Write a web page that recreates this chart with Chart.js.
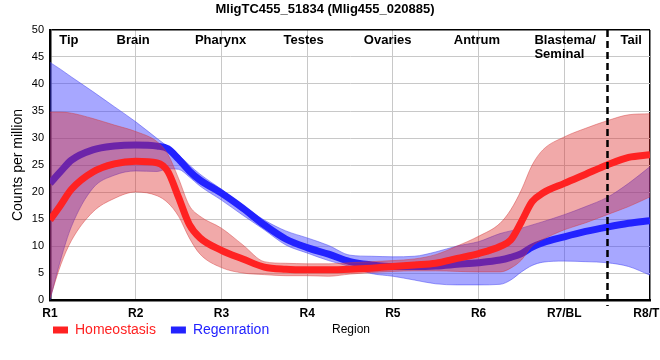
<!DOCTYPE html>
<html>
<head>
<meta charset="utf-8">
<script src="https://cdn.jsdelivr.net/npm/chart.js@4.4.1/dist/chart.umd.min.js"></script>
<style>
  body { margin: 0; background: #fff; }
  #wrap { width: 660px; height: 360px; }
</style>
</head>
<body>
<div id="wrap"><canvas id="regionChart"></canvas></div>
<script>
const chartTitle = "MligTC455_51834 (Mlig455_020885)";
const tickLabels = ["R1", "R2", "R3", "R4", "R5", "R6", "R7/BL", "R8/TL"];
const regionNames = ["Tip", "Brain", "Pharynx", "Testes", "Ovaries", "Antrum", "Blastema/\nSeminal", "Tail"];
const regionPos = [1.22, 1.97, 2.99, 3.96, 4.94, 5.98, 7.01, 7.78];
const tailBoundary = 7.5;

// sample positions along the body (R1 = 1 ... R8 = 8)
const xs = [1, 1.125, 1.25, 1.5, 1.75, 2, 2.25, 2.375, 2.5, 2.625, 2.75, 3, 3.25, 3.5, 3.75,
  4, 4.25, 4.5, 4.75, 5, 5.25, 5.5, 5.75, 6, 6.25, 6.375, 6.5, 6.625, 6.75, 7, 7.25, 7.5, 7.75, 8];

const homeoMean = [14.8, 17.6, 20.5, 23.7, 25.2, 25.7, 25.4, 23.8, 19.0, 14.0, 11.5, 9.2, 7.6, 6.1, 5.7,
  5.6, 5.6, 5.7, 5.9, 6.2, 6.5, 6.8, 7.7, 8.6, 9.9, 11.1, 14.5, 18.2, 19.8, 21.6, 23.3, 25.0, 26.4, 26.9];
const homeoUpper = [34.8, 34.8, 34.6, 33.6, 32.4, 31.2, 29.3, 27.0, 22.5, 17.5, 15.5, 13.3, 10.2, 7.1, 6.8,
  6.7, 6.7, 6.9, 7.1, 7.3, 7.6, 8.4, 10.0, 11.8, 14.2, 16.7, 20.4, 25.0, 27.8, 30.2, 31.8, 33.2, 34.3, 34.5];
const homeoLower = [0.3, 6.5, 11.0, 16.3, 18.8, 20.0, 19.3, 18.0, 15.5, 11.5, 8.5, 6.0, 5.0, 4.7, 4.5,
  4.5, 4.4, 4.8, 5.1, 5.3, 5.4, 5.4, 5.3, 5.2, 5.2, 5.9, 7.4, 10.0, 11.2, 13.0, 14.3, 15.8, 17.3, 19.1];

const regenMean = [21.6, 23.8, 25.9, 27.8, 28.5, 28.7, 28.5, 28.0, 26.1, 23.9, 22.2, 19.8, 17.0, 13.9, 11.3,
  9.7, 8.5, 7.1, 6.5, 6.2, 6.2, 6.3, 6.6, 6.9, 7.4, 7.9, 8.6, 9.8, 10.6, 11.7, 12.7, 13.5, 14.2, 14.7];
const regenUpper = [44.0, 42.7, 41.3, 38.6, 35.8, 33.0, 29.9, 28.4, 26.9, 25.0, 23.3, 20.5, 17.5, 14.8, 12.8,
  11.5, 10.1, 8.3, 8.1, 8.0, 8.1, 8.9, 10.0, 10.8, 12.3, 12.8, 13.3, 13.9, 14.5, 15.8, 17.3, 19.0, 21.6, 24.7];
const regenLower = [0.0, 7.5, 13.6, 20.7, 23.1, 23.9, 23.8, 24.3, 24.2, 22.8, 21.1, 18.5, 15.7, 13.0, 10.2,
  8.7, 7.3, 6.2, 4.9, 4.4, 3.7, 3.0, 2.8, 2.8, 2.9, 3.7, 5.2, 6.4, 7.0, 7.2, 7.1, 6.9, 6.2, 4.6];

const FONT = "'Liberation Sans', Arial, sans-serif";
Chart.defaults.font.family = FONT;
Chart.defaults.color = "#000";

const pts = arr => arr.map((v, i) => ({ x: xs[i], y: v }));

function meanLine(label, values, color, order) {
  return {
    label, data: pts(values), order,
    borderColor: color, backgroundColor: color,
    borderWidth: 7, pointRadius: 0, fill: false,
    cubicInterpolationMode: "monotone", borderJoinStyle: "round"
  };
}

function bandEdge(label, values, fill, line, order, fillTo) {
  return {
    label, data: pts(values), order,
    borderColor: line, backgroundColor: fill,
    borderWidth: 1, pointRadius: 0,
    fill: fillTo, cubicInterpolationMode: "monotone"
  };
}

const overlay = {
  id: "overlay",
  afterLayout(chart) {
    // legend sits on the same row as the axis title
    chart.legend.left = 38;
    chart.legend.top = 308;
  },
  afterDatasetsDraw(chart) {
    const { ctx, chartArea, scales: { x, y } } = chart;
    ctx.save();
    const dx = Math.round(x.getPixelForValue(tailBoundary)) + 0.5;
    ctx.strokeStyle = "#000";
    ctx.lineWidth = 2.5;
    ctx.setLineDash([7, 4]);
    ctx.beginPath();
    ctx.moveTo(dx, chartArea.top);
    ctx.lineTo(dx, chartArea.bottom + 6);
    ctx.stroke();
    ctx.setLineDash([]);

    ctx.font = "bold 13px " + FONT;
    ctx.fillStyle = "#000";
    ctx.textAlign = "left";
    ctx.textBaseline = "middle";
    const ty = y.getPixelForValue(48.1);
    regionNames.forEach((name, i) => {
      const lines = name.split("\n");
      const w = Math.max(...lines.map(l => ctx.measureText(l).width));
      const left = x.getPixelForValue(regionPos[i]) - w / 2;
      lines.forEach((l, j) => ctx.fillText(l, left, ty + j * 14));
    });

    ctx.font = "12px " + FONT;
    ctx.textAlign = "center";
    ctx.fillText("Region", (chartArea.left + chartArea.right) / 2 + 1, chartArea.bottom + 30);
    ctx.restore();
  }
};

new Chart(document.getElementById("regionChart"), {
  type: "line",
  data: {
    datasets: [
      meanLine("Homeostasis", homeoMean, "rgb(255,34,34)", 0),
      bandEdge("homeoUpper", homeoUpper, "rgba(220,40,40,0.4)", "rgba(210,60,60,0.45)", 1, "+1"),
      bandEdge("homeoLower", homeoLower, "rgba(220,40,40,0.4)", "rgba(210,60,60,0.45)", 1, false),
      meanLine("Regenration", regenMean, "rgb(34,34,255)", 2),
      bandEdge("regenUpper", regenUpper, "rgba(60,60,255,0.45)", "rgba(70,70,240,0.5)", 3, "+1"),
      bandEdge("regenLower", regenLower, "rgba(60,60,255,0.45)", "rgba(70,70,240,0.5)", 3, false)
    ]
  },
  options: {
    responsive: true,
    maintainAspectRatio: false,
    animation: false,
    layout: { padding: { left: 0, right: 10, top: 0, bottom: 0 } },
    plugins: {
      title: {
        display: true,
        text: chartTitle,
        color: "#000",
        font: { size: 13, weight: "bold" },
        padding: { top: 1.2, bottom: 13.2 }
      },
      legend: {
        position: "bottom",
        align: "start",
        labels: {
          boxWidth: 15,
          boxHeight: 7,
          padding: 15,
          font: { size: 14 },
          filter: item => item.datasetIndex === 0 || item.datasetIndex === 3,
          generateLabels(chart) {
            return Chart.defaults.plugins.legend.labels.generateLabels(chart).map(item => {
              item.fontColor = item.strokeStyle;
              item.fillStyle = item.strokeStyle;
              item.lineWidth = 0;
              return item;
            });
          }
        }
      },
      tooltip: { enabled: false }
    },
    scales: {
      x: {
        type: "linear",
        min: 1,
        max: 8,
        afterFit(scale) {
          scale.height = 21;
          scale.paddingLeft = 0;
          scale.paddingRight = 0;
        },
        ticks: {
          stepSize: 1,
          padding: 6,
          autoSkip: false,
          maxRotation: 0,
          color: "#000",
          font: { size: 12, weight: "bold" },
          callback: v => Number.isInteger(v) ? tickLabels[v - 1] : ""
        },
        grid: {
          drawTicks: false,
          color: c => c.tick && c.tick.value === 8 ? "#000" : "#c8c8c8",
          lineWidth: c => c.tick && c.tick.value === 8 ? 1.5 : 1
        },
        border: { color: "#000", width: 2.5 }
      },
      y: {
        min: 0,
        max: 50,
        afterFit(scale) {
          scale.width = 50;
        },
        title: {
          display: true,
          text: "Counts per million",
          color: "#000",
          font: { size: 14 },
          padding: { top: 10, bottom: 0 }
        },
        ticks: {
          stepSize: 5,
          padding: 6,
          color: "#000",
          font: { size: 11 }
        },
        grid: {
          drawTicks: false,
          color: c => c.tick && c.tick.value === 50 ? "#000" : "#c8c8c8",
          lineWidth: c => c.tick && c.tick.value === 50 ? 1.5 : 1
        },
        border: { color: "#000", width: 2.5 }
      }
    }
  },
  plugins: [overlay]
});
</script>
</body>
</html>
